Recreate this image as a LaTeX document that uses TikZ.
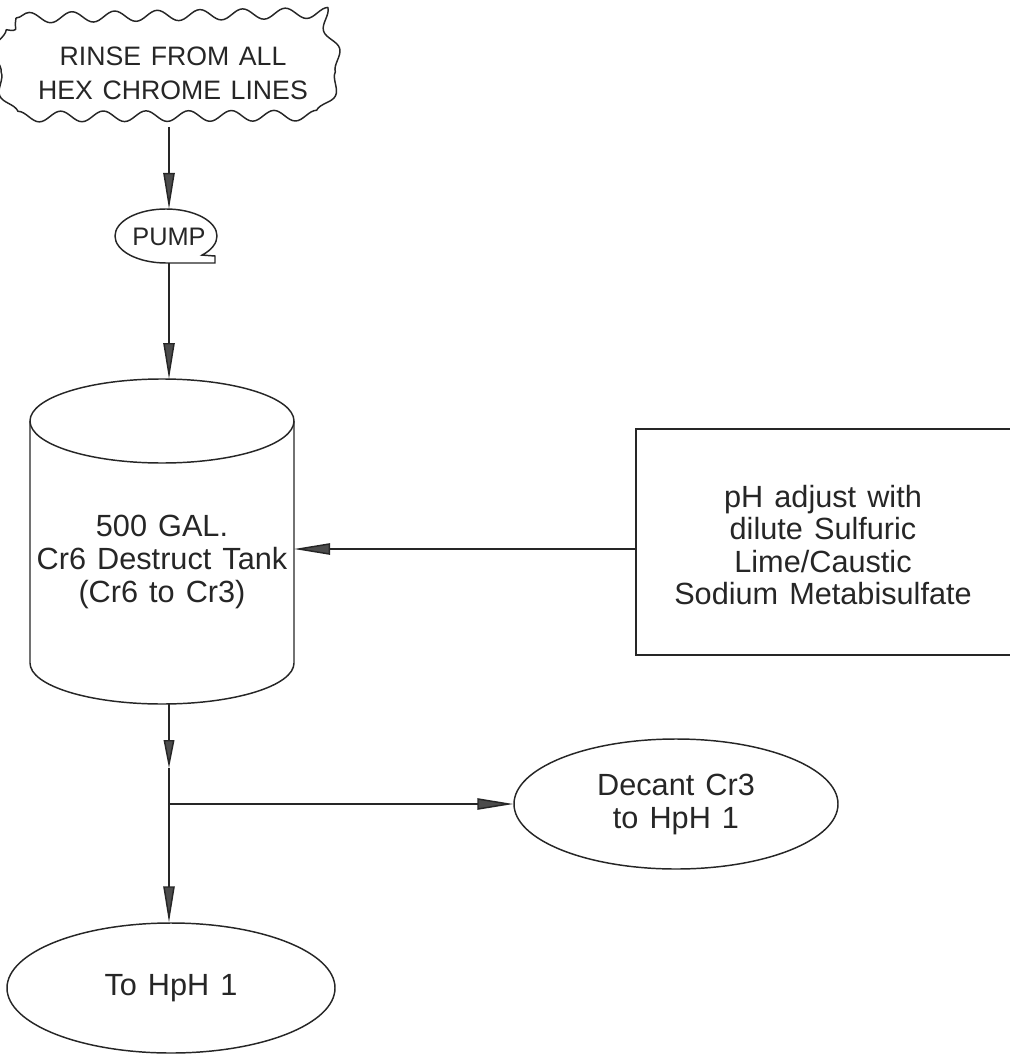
\documentclass[tikz,border=0pt]{standalone}
\usepackage{fontspec}
\setmainfont{Liberation Sans}[WordSpace=1.3]
\usetikzlibrary{arrows.meta,shapes.geometric,decorations.pathmorphing}
\begin{document}
\begin{tikzpicture}[x=0.75pt,y=-0.75pt,
  line/.style={draw=black!85, line width=1.1pt},
  flow/.style={line, -{Triangle[length=27pt,width=8.5pt,fill=black!70]}},
  shortflow/.style={line, -{Triangle[length=21pt,width=8pt,fill=black!70]}},
  lbl/.style={font=\fontsize{23}{24.75}\selectfont, align=center, text=black!85, inner sep=0pt},
  oval/.style={lbl, line, ellipse, minimum width=246pt, minimum height=97.5pt},
  cloudline/.style={line, line join=round, decorate, decoration={snake, segment length=32pt, amplitude=4pt}}
]
\useasboundingbox (0,0) rectangle (1009,1055);

% source cloud
\draw[cloudline] (16,18) -- (315,13) -- (336,86) -- (317,125) -- (26,126) -- (8,84) -- cycle;
\node[lbl, font=\fontsize{20}{25.5}\selectfont] (cloud) at (173,73) {RINSE FROM ALL\\HEX CHROME LINES};

% pump
\node[lbl, font=\fontsize{19}{20}\selectfont] (pump) at (169,237) {PUMP};
\draw[line] (202.06,255.09) arc[start angle=-45, end angle=270, x radius=38.25pt, y radius=20.25pt]
  -- (215,263) -- (215,256) -- cycle;

% tank
\draw[line] (162,421) ellipse [x radius=99pt, y radius=31.5pt];
\draw[line] (30,421) -- (30,663) arc[start angle=180, end angle=360, x radius=99pt, y radius=30.75pt] -- (294,421);
\node[lbl] (tank) at (162,562) {500 GAL.\\Cr6 Destruct Tank\\(Cr6 to Cr3)};

% chemicals box
\draw[line] (636,429) rectangle (1012,655);
\node[lbl, font=\fontsize{23}{24.25}\selectfont] (chem) at (823,545)
  {pH adjust with\\dilute Sulfuric\\Lime/Caustic\\Sodium Metabisulfate};
\coordinate (chemwest) at (636,549);

% outlets
\node[oval, minimum width=243pt] (decant) at (676,804) {Decant Cr3\\to HpH 1};
\node[oval] (hph) at (171,988) {To HpH 1};

% connection points
\coordinate (cloudbot) at (169,127);
\coordinate (pumptop) at (169,209);
\coordinate (pumpbot) at (169,263);
\coordinate (tanktop) at (169,379);
\coordinate (tankeast) at (294,549);
\coordinate (tankbot) at (169,704);
\coordinate (mid) at (169,768);
\coordinate (junc) at (169,804);

% connectors
\draw[flow] (cloudbot) -- (pumptop);
\draw[flow] (pumpbot) -- (tanktop);
\draw[flow] (chemwest) -- (tankeast);
\draw[shortflow] (tankbot) -- (mid);
\draw[line] (mid) -- (junc);
\draw[flow] (junc) -- (decant.west);
\draw[flow] (junc) -- (junc |- hph.north);
\end{tikzpicture}
\end{document}
